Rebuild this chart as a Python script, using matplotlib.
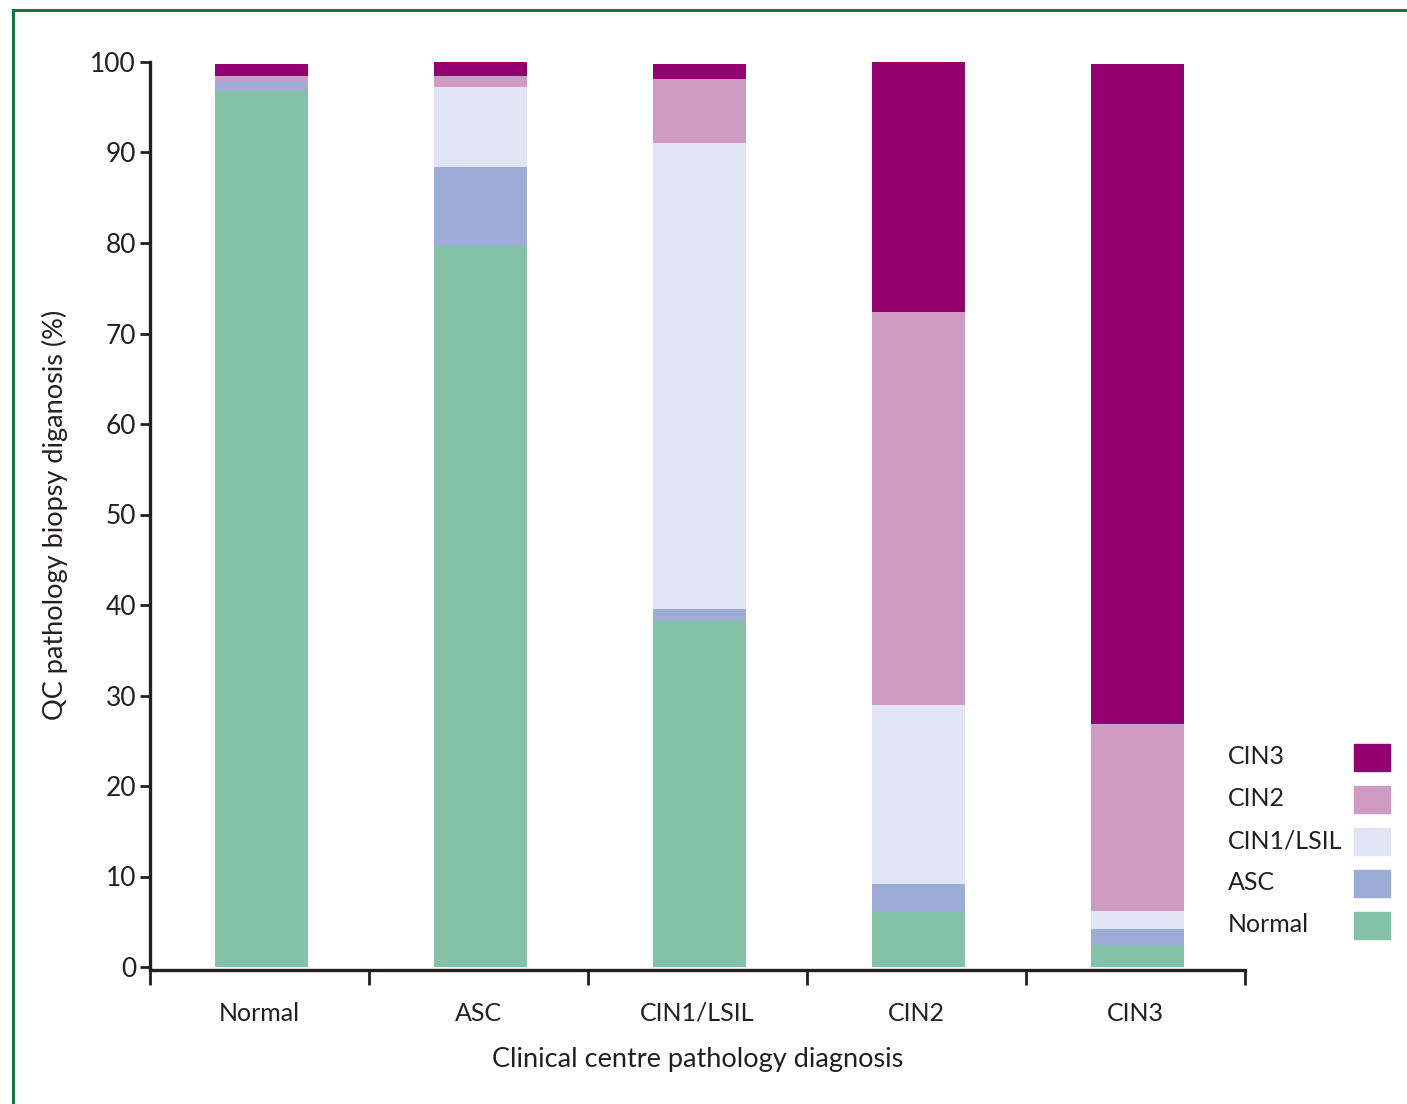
import numpy as np
import matplotlib
matplotlib.use("Agg")
import matplotlib.pyplot as plt
from matplotlib.patches import Rectangle
from matplotlib.lines import Line2D

plt.rcParams['font.family'] = ['Lato', 'DejaVu Sans']

# Clinical centre diagnosis (x categories)
centres = ["Normal", "ASC", "CIN1/LSIL", "CIN2", "CIN3"]

# QC biopsy diagnosis shares (%), bottom to top of each bar
normal = [96.8, 79.7, 38.2, 6.2, 2.4]
asc = [1.1, 8.7, 1.4, 3.0, 1.8]
cin1 = [0.0, 8.8, 51.5, 19.7, 2.0]
cin2 = [0.6, 1.3, 7.0, 43.5, 20.7]
cin3 = [1.3, 1.5, 1.7, 27.6, 72.9]

layers = ["Normal", "ASC", "CIN1/LSIL", "CIN2", "CIN3"]
colours = ["#84c2a7", "#9eacd8", "#e1e4f4", "#cf9bc2", "#940070"]

ink = "#231f20"

fig = plt.figure(figsize=(14.07, 11.04), dpi=100)
ax = fig.add_axes([150/1407, 1 - 967/1104, 1095/1407, 905/1104])

x = np.arange(len(centres))
bottom = np.zeros(len(centres))
for name, vals, col in zip(layers, [normal, asc, cin1, cin2, cin3], colours):
    ax.bar(x + 0.01, vals, bottom=bottom, width=0.425, color=col, label=name,
           linewidth=0)
    bottom += np.array(vals)

ax.set_xlim(-0.5, len(centres) - 0.5)
ax.set_ylim(0, 100)

for side in ["top", "right"]:
    ax.spines[side].set_visible(False)
for side in ["left", "bottom"]:
    ax.spines[side].set_linewidth(2.4)
    ax.spines[side].set_color(ink)
ax.spines["bottom"].set_position(("outward", 2.2))

ax.set_yticks(np.arange(0, 101, 10))
ax.tick_params(axis="y", length=7, width=2.0, color=ink, labelsize=19, pad=3,
               labelcolor=ink)

# boundary ticks as major, category names on minor ticks
ax.set_xticks(np.arange(-0.5, len(centres), 1.0))
ax.set_xticklabels([])
ax.set_xticks(x, minor=True)
ax.set_xticklabels(centres, minor=True)
ax.tick_params(axis="x", which="major", length=11, width=2.0, color=ink)
ax.tick_params(axis="x", which="minor", length=0, labelsize=18, pad=23,
               labelcolor=ink)

ax.set_ylabel("QC pathology biopsy diganosis (%)", fontsize=19.5, color=ink,
              labelpad=16)
ax.set_xlabel("Clinical centre pathology diagnosis", fontsize=19.5, color=ink,
              labelpad=16)

# legend: labels left-aligned, swatches in a column on the right
for i, (name, col) in enumerate(zip(layers[::-1], colours[::-1])):
    yc = 1 - (757 + i * 42) / 1104
    fig.text(1228/1407, yc, name, fontsize=18, color=ink, va="center", ha="left")
    fig.patches.append(Rectangle((1354/1407, yc - 13.5/1104), 36/1407, 27/1104,
                                 transform=fig.transFigure, color=col))

# green frame around the panel
fig.add_artist(Line2D([13/1407, 13/1407], [0, 1 - 10/1104], color="#0a7a3c",
                      lw=2.2, transform=fig.transFigure))
fig.add_artist(Line2D([13/1407, 1], [1 - 10/1104, 1 - 10/1104], color="#0a7a3c",
                      lw=2.2, transform=fig.transFigure))

fig.savefig("out.png", dpi=100)
